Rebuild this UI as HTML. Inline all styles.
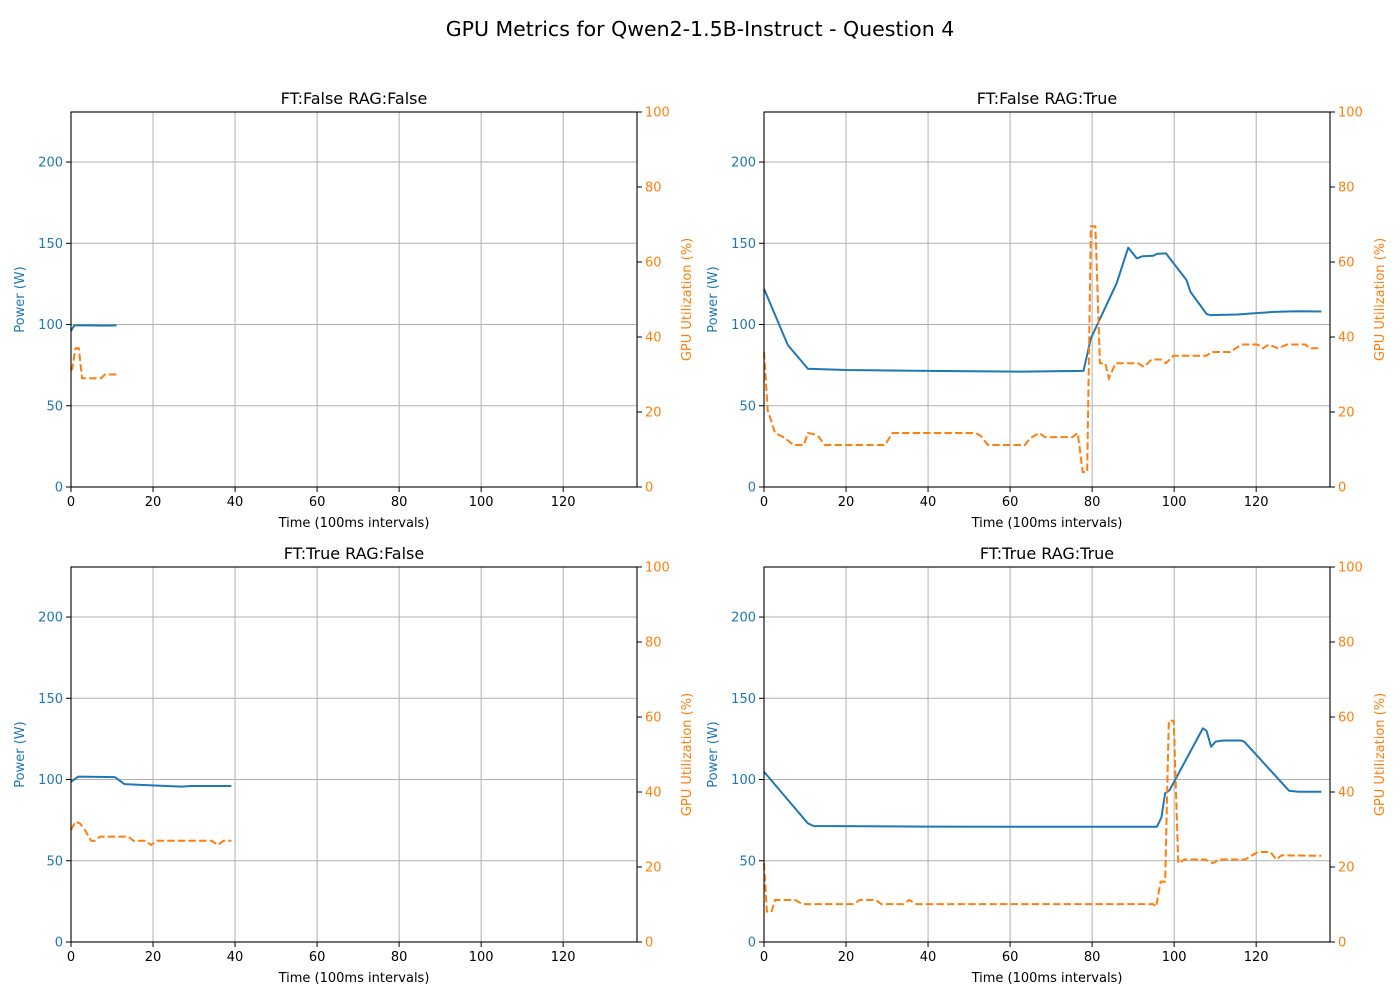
<!DOCTYPE html>
<html><head><meta charset="utf-8"><style>
html,body{margin:0;padding:0;background:#fff;}
svg{display:block;font-family:"DejaVu Sans","Liberation Sans",sans-serif;}
</style></head><body>
<svg id="fig" width="1400" height="1000" viewBox="0 0 1400 1000" xmlns="http://www.w3.org/2000/svg">
<text x="700" y="36" text-anchor="middle" font-size="20.5" fill="#000">GPU Metrics for Qwen2-1.5B-Instruct - Question 4</text>
</svg>
<script>
// ---- data (x in 100ms intervals, power in W, utilization in %) ----
const xTicks = [0, 20, 40, 60, 80, 100, 120];
const powerTicks = [0, 50, 100, 150, 200];
const utilTicks = [0, 20, 40, 60, 80, 100];
const panelTitles = ["FT:False RAG:False", "FT:False RAG:True", "FT:True RAG:False", "FT:True RAG:True"];

const p1PowerX = [0, 0.2, 0.8, 4, 8, 11.1];
const p1PowerY = [96, 97, 99.5, 99.5, 99.3, 99.5];
const p1UtilX = [0, 0.3, 1.1, 1.9, 2.7, 7.3, 8.3, 11.1];
const p1UtilY = [31, 31.6, 37, 37, 29, 29, 30, 30];

const p2PowerX = [0, 5.8, 10.7, 20, 40, 63, 77.9, 79.7, 86, 88.8, 90.9, 92.2, 94.9, 95.8, 98, 103, 104, 107.9, 108.8, 115.5, 120, 124.4, 130, 135.9];
const p2PowerY = [122, 87.4, 72.8, 72, 71.5, 71, 71.5, 91.5, 125.5, 147.3, 140.7, 142, 142.3, 143.5, 143.8, 127.4, 120, 106.5, 105.8, 106.2, 107, 107.8, 108.2, 108];
const p2UtilX = [0, 0.9, 2.7, 4.9, 7.2, 9.7, 10.7, 12.5, 13.4, 14.8, 29.5, 31.3, 51.5, 52.8, 54.6, 63.6, 64.9, 67.1, 68.5, 75.2, 76.5, 77.7, 78.8, 79.7, 80.8, 81.9, 83.2, 84.1, 85.7, 91.3, 92.6, 94.5, 96.7, 98, 99.8, 107.9, 109, 113.7, 116.4, 120.3, 121.7, 123.1, 125.3, 127.6, 132, 132.9, 135.9];
const p2UtilY = [36, 20.5, 14.4, 13.2, 11.2, 11.2, 14.4, 14, 13.3, 11.2, 11.2, 14.4, 14.4, 13.7, 11.2, 11.2, 13, 14.4, 13.3, 13.3, 14.4, 4, 4, 69.5, 69.5, 33, 33, 29, 33, 33, 32, 34, 34, 33, 35, 35, 36, 36, 38, 38, 37, 38, 37, 38, 38, 37, 37];

const p3PowerX = [0, 1.8, 10.7, 13, 19.7, 27, 29.3, 35, 39.1];
const p3PowerY = [98.6, 101.8, 101.5, 97.2, 96.4, 95.6, 96, 96, 96];
const p3UtilX = [0, 1.1, 2.2, 3.4, 4.9, 5.9, 7.1, 14, 15.2, 18, 19.5, 20.9, 34.3, 35.8, 37.2, 39.1];
const p3UtilY = [29.9, 32.1, 31.6, 29.9, 27, 27, 28.1, 28.1, 27, 27, 25.9, 27, 27, 25.9, 27, 27];

const p4PowerX = [0, 10.7, 12.1, 40, 95.8, 96.9, 97.8, 98.9, 107, 107.9, 109, 110.1, 111.9, 116.4, 117.1, 128, 130.3, 135.9];
const p4PowerY = [104.8, 73, 71.4, 71, 70.9, 76.7, 91.5, 93.5, 131.5, 130, 120.2, 123.3, 124, 124, 123.3, 93.1, 92.5, 92.5];
const p4UtilX = [0, 0.7, 1.8, 2.7, 7.6, 9.4, 21.9, 23.3, 27.3, 28.6, 34, 35.4, 37.1, 94.9, 95.6, 96.7, 97.8, 98.7, 99.9, 101, 102.5, 107.6, 109.4, 111, 117.3, 120.4, 123.5, 124.9, 126.2, 135.9];
const p4UtilY = [21, 8.1, 8, 11.2, 11.2, 10.1, 10.1, 11.2, 11.2, 10.1, 10.1, 11.2, 10.1, 10.1, 9.4, 16.1, 16.1, 59, 59, 21, 22, 22, 21, 22, 22, 24, 24, 22, 23.1, 23];

const panels = [
  {px: p1PowerX, py: p1PowerY, ux: p1UtilX, uy: p1UtilY, left: 71, top: 112},
  {px: p2PowerX, py: p2PowerY, ux: p2UtilX, uy: p2UtilY, left: 764, top: 112},
  {px: p3PowerX, py: p3PowerY, ux: p3UtilX, uy: p3UtilY, left: 71, top: 567},
  {px: p4PowerX, py: p4PowerY, ux: p4UtilX, uy: p4UtilY, left: 764, top: 567}
];
const W = 566, H = 375, XMAX = 138, PMAX = 230.8, UMAX = 100;
const NS = "http://www.w3.org/2000/svg";
const fig = document.getElementById("fig");
function mk(tag, attrs, parent) {
  const e = document.createElementNS(NS, tag);
  for (const k in attrs) e.setAttribute(k, attrs[k]);
  parent.appendChild(e);
  return e;
}
panels.forEach((p, i) => {
  const g = mk("g", {}, fig);
  
  
  const L = p.left, T = p.top, B = T + H, R = L + W;
  const sx = v => L + v / XMAX * W;
  const sp = v => B - v / PMAX * H;
  const su = v => B - v / UMAX * H;
  xTicks.forEach(t => {
    const l = mk("line", {x1: sx(t), x2: sx(t), y1: T, y2: B, stroke: "#b0b0b0", "stroke-width": 1}, g);
    
    
  });
  powerTicks.forEach(t => {
    const l = mk("line", {x1: L, x2: R, y1: sp(t), y2: sp(t), stroke: "#b0b0b0", "stroke-width": 1}, g);
    
    
  });
  const pw = mk("polyline", {points: p.px.map((x, k) => sx(x) + "," + sp(p.py[k])).join(" "), fill: "none", stroke: "#1f77b4", "stroke-width": 2, "stroke-linejoin": "round"}, g);
  
  
  const ut = mk("polyline", {points: p.ux.map((x, k) => sx(x) + "," + su(p.uy[k])).join(" "), fill: "none", stroke: "#ff7f0e", "stroke-width": 2, "stroke-dasharray": "7.4,3.2"}, g);
  
  
  const fr = mk("rect", {x: L, y: T, width: W, height: H, fill: "none", stroke: "#000", "stroke-width": 1.1}, g);
  
  
  xTicks.forEach(t => {
    mk("line", {x1: sx(t), x2: sx(t), y1: B, y2: B + 5, stroke: "#000"}, g);
    const tx = mk("text", {x: sx(t), y: B + 19, "text-anchor": "middle", "font-size": 13}, g);
    tx.textContent = t;
    
    
  });
  powerTicks.forEach(t => {
    mk("line", {x1: L - 5, x2: L, y1: sp(t), y2: sp(t), stroke: "#000"}, g);
    const tx = mk("text", {x: L - 8, y: sp(t) + 4.5, "text-anchor": "end", "font-size": 13, fill: "#1f77b4"}, g);
    tx.textContent = t;
    
    
  });
  utilTicks.forEach(t => {
    mk("line", {x1: R, x2: R + 5, y1: su(t), y2: su(t), stroke: "#000"}, g);
    const tx = mk("text", {x: R + 8, y: su(t) + 4.5, "text-anchor": "start", "font-size": 13, fill: "#ff7f0e"}, g);
    tx.textContent = t;
    
    
  });
  const ti = mk("text", {x: L + W / 2, y: T - 8, "text-anchor": "middle", "font-size": 16}, g);
  ti.textContent = panelTitles[i];
  
  
  const xl = mk("text", {x: L + W / 2, y: B + 40, "text-anchor": "middle", "font-size": 13}, g);
  xl.textContent = "Time (100ms intervals)";
  
  
  const yl = mk("text", {x: 0, y: 0, "text-anchor": "middle", "font-size": 13, fill: "#1f77b4", transform: "translate(" + (L - 47) + "," + (T + H / 2) + ") rotate(-90)"}, g);
  yl.textContent = "Power (W)";
  
  
  const yr = mk("text", {x: 0, y: 0, "text-anchor": "middle", "font-size": 13, fill: "#ff7f0e", transform: "translate(" + (R + 54) + "," + (T + H / 2) + ") rotate(-90)"}, g);
  yr.textContent = "GPU Utilization (%)";
  
  
});
</script>
</body></html>
